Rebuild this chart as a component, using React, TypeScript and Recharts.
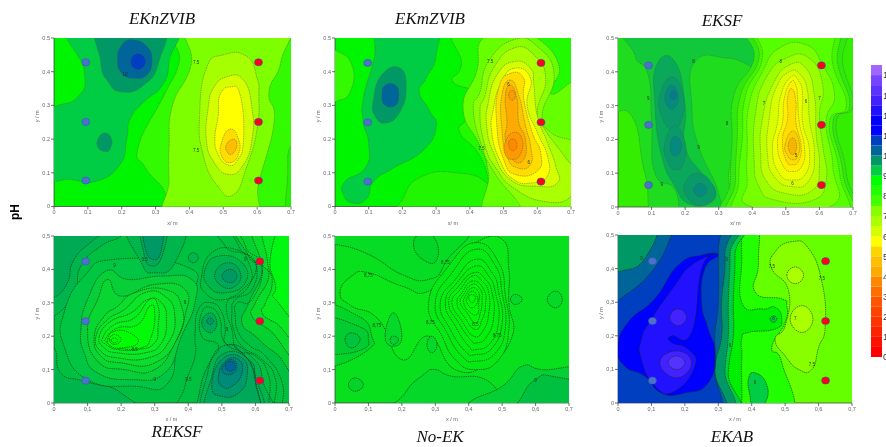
import React from "react";
import { Bar, BarChart, ReferenceArea, Scatter, ScatterChart, XAxis, YAxis } from "recharts";

type Pt = number[];

const xTicks = [0, 0.1, 0.2, 0.3, 0.4, 0.5, 0.6, 0.7];
const yTicks = [0, 0.1, 0.2, 0.3, 0.4, 0.5];
const scaleTicks = [0, 1, 2, 3, 4, 5, 6, 7, 8, 9, 10, 11, 12, 13, 14];
const bandColors = ["#ff0000", "#ff1100", "#ff2200", "#ff3300", "#ff4400", "#ff5500", "#ff6f00", "#ff8800", "#ffaa00", "#ffbf00", "#ffd500", "#ffff00", "#d4ff00", "#aaff00", "#88ff00", "#44ff00", "#22ff00", "#00ff00", "#00cc44", "#009966", "#006699", "#0040c0", "#0000ff", "#0000ff", "#2211ff", "#4422ff", "#5a33ff", "#7744ff", "#a066ff"];

// EKnZVIB
const c1Mid: Pt[] = [[0.38, 0.55], [0.37, 0.43], [0.325, 0.33], [0.25, 0.18], [0.27, 0.115], [0.33, 0.035], [0.33, -0.05], [0.75, -0.05], [0.75, 0.55]];
const c1Edge: Pt[] = [[0.69, -0.05], [0.69, 0.09], [0.7, 0.18], [0.75, 0.2], [0.75, -0.05]];
const c1Lime: Pt[] = [[0.41, 0.55], [0.405, 0.42], [0.35, 0.3], [0.34, 0.18], [0.34, 0.08], [0.345, -0.05], [0.58, -0.05], [0.605, 0.07], [0.65, 0.25], [0.635, 0.34], [0.67, 0.43], [0.67, 0.55]];
const c1L3: Pt[] = [[0.45, 0.41], [0.5, 0.45], [0.57, 0.445], [0.6, 0.38], [0.605, 0.33], [0.6, 0.23], [0.57, 0.12], [0.53, 0.035], [0.48, 0.065], [0.44, 0.155], [0.43, 0.27]];
const c1L4: Pt[] = [[0.47, 0.35], [0.51, 0.385], [0.56, 0.375], [0.585, 0.29], [0.585, 0.2], [0.56, 0.125], [0.515, 0.095], [0.47, 0.135], [0.45, 0.2], [0.455, 0.29]];
const c1L5: Pt[] = [[0.49, 0.33], [0.52, 0.355], [0.55, 0.33], [0.56, 0.2], [0.54, 0.135], [0.51, 0.125], [0.485, 0.155], [0.475, 0.2], [0.485, 0.27]];
const c1L6: Pt[] = [[0.495, 0.19], [0.52, 0.23], [0.545, 0.2], [0.545, 0.155], [0.52, 0.13], [0.495, 0.15]];
const c1L7: Pt[] = [[0.51, 0.185], [0.53, 0.2], [0.54, 0.18], [0.525, 0.155], [0.51, 0.165]];
const c1Dark: Pt[] = [[-0.05, 0.26], [0, 0.295], [0.07, 0.325], [0.09, 0.4], [0.055, 0.55], [0.34, 0.55], [0.34, 0.43], [0.32, 0.36], [0.265, 0.31], [0.225, 0.26], [0.215, 0.2], [0.195, 0.125], [0.125, 0.075], [0.047, 0.08], [-0.05, 0.09]];
const c1Deep: Pt[] = [[0.14, 0.55], [0.138, 0.43], [0.16, 0.37], [0.2, 0.34], [0.265, 0.36], [0.31, 0.43], [0.315, 0.55]];
const c1Blob: Pt[] = [[0.13, 0.2], [0.15, 0.218], [0.17, 0.2], [0.165, 0.17], [0.15, 0.163], [0.13, 0.175]];
const c1Navy: Pt[] = [[0.187, 0.435], [0.2, 0.48], [0.235, 0.495], [0.275, 0.475], [0.29, 0.435], [0.275, 0.39], [0.235, 0.38], [0.2, 0.395]];
const c1Core: Pt[] = [[0.225, 0.43], [0.248, 0.455], [0.272, 0.43], [0.248, 0.405]];

// EKmZVIB
const c2Patch: Pt[] = [[-0.05, 0.48], [0, 0.465], [0.05, 0.42], [0.045, 0.34], [0, 0.31], [-0.05, 0.29]];
const c2H0: Pt[] = [[0.385, 0.55], [0.375, 0.42], [0.35, 0.37], [0.43, 0.33], [0.39, 0.26], [0.37, 0.22], [0.43, 0.15], [0.46, 0.05], [0.47, -0.05], [0.75, -0.05], [0.75, 0.55]];
const c2Low: Pt[] = [[0.2, -0.05], [0.205, 0.03], [0.26, 0.09], [0.36, 0.1], [0.45, 0.07], [0.475, 0], [0.48, -0.05]];
const c2H1: Pt[] = [[0.44, 0.5], [0.42, 0.4], [0.38, 0.29], [0.43, 0.18], [0.455, 0.1], [0.47, -0.05], [0.75, -0.05], [0.75, 0.335], [0.64, 0.335], [0.665, 0.415], [0.6, 0.5], [0.54, 0.51]];
const c2H2: Pt[] = [[0.53, 0.495], [0.455, 0.43], [0.43, 0.34], [0.41, 0.29], [0.435, 0.18], [0.47, 0.105], [0.525, 0.035], [0.61, -0.05], [0.75, -0.05], [0.75, 0.15], [0.64, 0.22], [0.615, 0.275], [0.65, 0.39], [0.6, 0.475]];
const c2H3: Pt[] = [[0.53, 0.47], [0.47, 0.41], [0.445, 0.33], [0.43, 0.28], [0.445, 0.18], [0.48, 0.11], [0.53, 0.055], [0.62, 0.015], [0.7, 0.03], [0.71, 0.1], [0.68, 0.15], [0.625, 0.225], [0.6, 0.28], [0.625, 0.38], [0.59, 0.45]];
const c2H4: Pt[] = [[0.53, 0.43], [0.48, 0.39], [0.455, 0.31], [0.45, 0.24], [0.47, 0.16], [0.52, 0.08], [0.6, 0.06], [0.66, 0.07], [0.655, 0.12], [0.63, 0.19], [0.6, 0.27], [0.59, 0.36], [0.58, 0.41]];
const c2H5: Pt[] = [[0.53, 0.41], [0.49, 0.36], [0.47, 0.29], [0.465, 0.22], [0.49, 0.135], [0.53, 0.08], [0.585, 0.07], [0.63, 0.09], [0.63, 0.15], [0.6, 0.22], [0.57, 0.3], [0.58, 0.38]];
const c2H6: Pt[] = [[0.52, 0.395], [0.485, 0.35], [0.48, 0.24], [0.5, 0.14], [0.535, 0.095], [0.6, 0.105], [0.61, 0.16], [0.585, 0.22], [0.56, 0.32], [0.56, 0.38]];
const c2H7: Pt[] = [[0.52, 0.375], [0.495, 0.33], [0.495, 0.23], [0.51, 0.15], [0.54, 0.115], [0.58, 0.125], [0.58, 0.18], [0.565, 0.24], [0.545, 0.33]];
const c2H8: Pt[] = [[0.52, 0.36], [0.505, 0.325], [0.51, 0.25], [0.505, 0.2], [0.525, 0.14], [0.56, 0.14], [0.565, 0.2], [0.545, 0.25], [0.54, 0.32]];
const c2H9: Pt[] = [[0.505, 0.19], [0.53, 0.22], [0.555, 0.2], [0.55, 0.155], [0.525, 0.14], [0.505, 0.155]];
const c2H10: Pt[] = [[0.515, 0.19], [0.53, 0.2], [0.54, 0.18], [0.525, 0.165]];
const c2Top: Pt[] = [[0.515, 0.33], [0.525, 0.345], [0.535, 0.33], [0.525, 0.315]];
const c2Dark: Pt[] = [[0.29, 0.55], [0.3, 0.45], [0.27, 0.38], [0.25, 0.34], [0.28, 0.285], [0.3, 0.235], [0.26, 0.165], [0.175, 0.115], [0.115, 0.075], [0.095, 0.025], [0.055, 0.01], [0.025, 0.035], [0.03, 0.075], [0.09, 0.115], [0.1, 0.185], [0.083, 0.255], [0.085, 0.325], [0.115, 0.435], [0.14, 0.55]];
const c2Deep: Pt[] = [[0.114, 0.317], [0.139, 0.391], [0.193, 0.411], [0.211, 0.351], [0.193, 0.282], [0.153, 0.248], [0.119, 0.268]];
const c2Navy: Pt[] = [[0.139, 0.33], [0.148, 0.36], [0.18, 0.36], [0.19, 0.33], [0.18, 0.3], [0.148, 0.3]];

// EKSF
const c3D1: Pt[] = [[-0.05, 0.55], [-0.05, 0.3], [0.04, 0.27], [0.08, 0.1], [0.13, -0.05], [0.33, -0.05], [0.33, 0.1], [0.36, 0.2], [0.37, 0.32], [0.42, 0.42], [0.47, 0.55]];
const c3D2: Pt[] = [[0.05, 0.55], [0.05, 0.45], [0.09, 0.39], [0.1, 0.25], [0.11, 0.1], [0.17, 0.05], [0.2, -0.05], [0.3, -0.05], [0.3, 0.04], [0.24, 0.18], [0.22, 0.3], [0.23, 0.43], [0.33, 0.44], [0.43, 0.42], [0.43, 0.55]];
const c3D3: Pt[] = [[0.115, 0.42], [0.17, 0.43], [0.2, 0.3], [0.2, 0.18], [0.25, 0.1], [0.29, 0.05], [0.27, 0.01], [0.21, 0.01], [0.17, 0.06], [0.13, 0.15], [0.11, 0.3]];
const c3A1: Pt[] = [[0.125, 0.33], [0.16, 0.385], [0.195, 0.33], [0.19, 0.26], [0.16, 0.23], [0.13, 0.27]];
const c3A2: Pt[] = [[0.14, 0.19], [0.17, 0.24], [0.2, 0.19], [0.195, 0.13], [0.17, 0.11], [0.145, 0.14]];
const c3A3: Pt[] = [[0.2, 0.07], [0.24, 0.1], [0.285, 0.06], [0.28, 0.02], [0.24, 0.005], [0.205, 0.03]];
const c3B1: Pt[] = [[0.14, 0.33], [0.16, 0.36], [0.18, 0.33], [0.17, 0.295], [0.15, 0.295]];
const c3B2: Pt[] = [[0.155, 0.18], [0.17, 0.21], [0.19, 0.18], [0.17, 0.15]];
const c3B3: Pt[] = [[0.225, 0.05], [0.245, 0.07], [0.265, 0.05], [0.245, 0.03]];
const c3C1: Pt[] = [[0.155, 0.33], [0.165, 0.345], [0.175, 0.33], [0.165, 0.318]];
const c3R0a: Pt[] = [[0.39, 0.55], [0.405, 0.44], [0.345, 0.33], [0.34, 0.2], [0.335, 0.08], [0.34, -0.05], [0.68, -0.05], [0.68, 0.1], [0.65, 0.25], [0.7, 0.3], [0.67, 0.42], [0.65, 0.55]];
const c3R0b: Pt[] = [[0.41, 0.55], [0.42, 0.44], [0.365, 0.33], [0.355, 0.2], [0.35, 0.08], [0.355, -0.05], [0.67, -0.05], [0.67, 0.1], [0.64, 0.25], [0.69, 0.3], [0.655, 0.42], [0.635, 0.55]];
const c3R1: Pt[] = [[0.42, 0.55], [0.43, 0.44], [0.38, 0.33], [0.37, 0.2], [0.36, 0.08], [0.37, -0.05], [0.66, -0.05], [0.66, 0.1], [0.63, 0.25], [0.68, 0.3], [0.64, 0.42], [0.62, 0.55]];
const c3R2: Pt[] = [[0.48, 0.47], [0.43, 0.4], [0.39, 0.3], [0.385, 0.18], [0.385, 0.08], [0.4, 0], [0.63, 0], [0.64, 0.12], [0.62, 0.25], [0.645, 0.33], [0.61, 0.42], [0.56, 0.48]];
const c3R3: Pt[] = [[0.5, 0.44], [0.44, 0.38], [0.41, 0.28], [0.405, 0.15], [0.42, 0.06], [0.47, 0.02], [0.58, 0.02], [0.62, 0.08], [0.61, 0.18], [0.6, 0.27], [0.61, 0.36], [0.57, 0.44]];
const c3R4: Pt[] = [[0.51, 0.42], [0.46, 0.36], [0.43, 0.26], [0.425, 0.16], [0.44, 0.08], [0.5, 0.04], [0.58, 0.05], [0.6, 0.12], [0.59, 0.22], [0.585, 0.33], [0.56, 0.41]];
const c3R5: Pt[] = [[0.51, 0.4], [0.47, 0.35], [0.45, 0.26], [0.445, 0.16], [0.465, 0.09], [0.52, 0.06], [0.57, 0.08], [0.585, 0.16], [0.57, 0.26], [0.565, 0.34], [0.545, 0.39]];
const c3R6: Pt[] = [[0.515, 0.385], [0.485, 0.33], [0.475, 0.25], [0.46, 0.17], [0.48, 0.1], [0.52, 0.08], [0.56, 0.1], [0.57, 0.17], [0.55, 0.25], [0.55, 0.33], [0.54, 0.37]];
const c3R7: Pt[] = [[0.515, 0.37], [0.495, 0.32], [0.49, 0.25], [0.475, 0.19], [0.49, 0.125], [0.52, 0.105], [0.55, 0.125], [0.555, 0.18], [0.54, 0.25], [0.535, 0.32], [0.53, 0.36]];
const c3R8: Pt[] = [[0.518, 0.35], [0.505, 0.32], [0.505, 0.26], [0.49, 0.2], [0.5, 0.14], [0.52, 0.125], [0.54, 0.14], [0.545, 0.185], [0.53, 0.25], [0.53, 0.31]];
const c3R9: Pt[] = [[0.498, 0.185], [0.52, 0.225], [0.54, 0.19], [0.535, 0.15], [0.52, 0.14], [0.503, 0.155]];
const c3R10: Pt[] = [[0.507, 0.18], [0.52, 0.205], [0.532, 0.18], [0.52, 0.155]];

// REKSF
const c4Band: Pt[] = [[-0.05, 0.55], [-0.05, 0.26], [0, 0.26], [0.06, 0.33], [0.08, 0.41], [0.14, 0.47], [0.2, 0.5], [0.25, 0.55]];
const c4Foot: Pt[] = [[-0.05, 0.165], [0, 0.165], [0.02, 0.09], [0.09, 0.065], [0.2, 0.03], [0.24, -0.05], [-0.05, -0.05]];
const c4Corner: Pt[] = [[-0.05, 0.55], [-0.05, 0.3], [0, 0.315], [0.04, 0.36], [0.06, 0.43], [0.12, 0.49], [0.2, 0.55]];
const c4Wide: Pt[] = [[0.03, 0.17], [0.03, 0.27], [0.09, 0.38], [0.18, 0.43], [0.39, 0.41], [0.42, 0.33], [0.37, 0.2], [0.34, 0.06], [0.24, 0.05], [0.1, 0.07]];
const c4P1: Pt[] = [[0.08, 0.22], [0.1, 0.31], [0.155, 0.395], [0.22, 0.37], [0.32, 0.38], [0.41, 0.37], [0.42, 0.3], [0.38, 0.2], [0.33, 0.09], [0.23, 0.07], [0.13, 0.09], [0.09, 0.15]];
const c4P2: Pt[] = [[0.1, 0.22], [0.13, 0.31], [0.16, 0.37], [0.2, 0.32], [0.3, 0.355], [0.39, 0.34], [0.39, 0.26], [0.36, 0.18], [0.3, 0.1], [0.21, 0.1], [0.13, 0.125]];
const c4P3: Pt[] = [[0.12, 0.2], [0.15, 0.26], [0.19, 0.29], [0.24, 0.33], [0.33, 0.34], [0.38, 0.29], [0.37, 0.2], [0.3, 0.12], [0.2, 0.12], [0.14, 0.14]];
const c4P4: Pt[] = [[0.125, 0.2], [0.16, 0.25], [0.21, 0.28], [0.27, 0.33], [0.33, 0.32], [0.36, 0.26], [0.34, 0.18], [0.28, 0.135], [0.19, 0.135], [0.14, 0.155]];
const c4P5: Pt[] = [[0.135, 0.2], [0.17, 0.245], [0.23, 0.27], [0.28, 0.31], [0.32, 0.3], [0.335, 0.25], [0.32, 0.18], [0.27, 0.15], [0.19, 0.15], [0.15, 0.165]];
const c4P6: Pt[] = [[0.145, 0.195], [0.18, 0.235], [0.24, 0.255], [0.285, 0.31], [0.31, 0.29], [0.31, 0.23], [0.3, 0.18], [0.25, 0.16], [0.19, 0.16], [0.155, 0.175]];
const c4P7: Pt[] = [[0.155, 0.195], [0.19, 0.225], [0.25, 0.235], [0.285, 0.29], [0.3, 0.27], [0.29, 0.2], [0.26, 0.165], [0.19, 0.165], [0.16, 0.18]];
const c4P8: Pt[] = [[0.16, 0.19], [0.18, 0.215], [0.225, 0.21], [0.25, 0.18], [0.2, 0.165], [0.17, 0.17]];
const c4P9: Pt[] = [[0.165, 0.19], [0.18, 0.205], [0.2, 0.19], [0.18, 0.175]];
const c4P10: Pt[] = [[0.17, 0.188], [0.18, 0.195], [0.19, 0.188], [0.18, 0.18]];
const c4W1: Pt[] = [[0.4, -0.05], [0.425, 0], [0.455, 0.104], [0.514, 0.174], [0.593, 0.134], [0.623, 0.064], [0.633, -0.05]];
const c4W2: Pt[] = [[0.46, -0.05], [0.47, 0.08], [0.51, 0.15], [0.58, 0.13], [0.6, 0.07], [0.6, -0.05]];
const c4W3: Pt[] = [[0.47, 0.05], [0.5, 0.13], [0.56, 0.135], [0.575, 0.08], [0.55, 0.03], [0.5, 0.02]];
const c4W4: Pt[] = [[0.49, 0.08], [0.51, 0.125], [0.55, 0.13], [0.56, 0.09], [0.53, 0.05], [0.5, 0.05]];
const c4W5: Pt[] = [[0.5, 0.1], [0.525, 0.13], [0.545, 0.11], [0.525, 0.085]];
const c4W6: Pt[] = [[0.51, 0.11], [0.525, 0.125], [0.54, 0.11], [0.525, 0.095]];
const c4M1: Pt[] = [[0.44, 0.24], [0.465, 0.27], [0.485, 0.24], [0.465, 0.21]];
const c4M2: Pt[] = [[0.455, 0.245], [0.465, 0.255], [0.475, 0.245], [0.465, 0.235]];
const c4T1: Pt[] = [[0.45, 0.4], [0.49, 0.44], [0.56, 0.42], [0.57, 0.36], [0.51, 0.33], [0.46, 0.35]];
const c4T2: Pt[] = [[0.48, 0.39], [0.52, 0.42], [0.555, 0.39], [0.54, 0.35], [0.5, 0.35]];
const c4T3: Pt[] = [[0.5, 0.38], [0.525, 0.4], [0.545, 0.38], [0.525, 0.36]];
const c4U0: Pt[] = [[0.22, 0.55], [0.26, 0.42], [0.3, 0.39], [0.36, 0.42], [0.38, 0.55]];
const c4U1: Pt[] = [[0.26, 0.55], [0.265, 0.46], [0.29, 0.41], [0.325, 0.45], [0.33, 0.55]];
const c4U2: Pt[] = [[0.27, 0.55], [0.27, 0.47], [0.295, 0.43], [0.32, 0.46], [0.32, 0.55]];
const c4Ring: Pt[] = [[0.4, 0.435], [0.415, 0.45], [0.43, 0.435], [0.415, 0.42]];
const c4E1: Pt[] = [[0.55, 0.55], [0.58, 0.44], [0.62, 0.4], [0.58, 0.3], [0.56, 0.24], [0.6, 0.2], [0.66, 0.15], [0.75, 0.1], [0.75, 0.55]];
const c4E2: Pt[] = [[0.6, 0.55], [0.615, 0.43], [0.64, 0.38], [0.6, 0.3], [0.59, 0.26], [0.64, 0.22], [0.75, 0.15], [0.75, 0.55]];
const c4E3: Pt[] = [[0.63, 0.55], [0.635, 0.43], [0.65, 0.36], [0.63, 0.3], [0.62, 0.27], [0.66, 0.24], [0.75, 0.2], [0.75, 0.55]];
const c4E4: Pt[] = [[0.69, 0.55], [0.645, 0.44], [0.66, 0.35], [0.66, 0.31], [0.75, 0.26], [0.75, 0.55]];
const c4N1: Pt[] = [[0.52, 0.55], [0.51, 0.47], [0.58, 0.44], [0.6, 0.39], [0.55, 0.33], [0.52, 0.31], [0.515, 0.27], [0.53, 0.22], [0.545, 0.16], [0.6, 0.14], [0.64, 0.08], [0.66, -0.05], [0.8, -0.05], [0.8, 0.6]];
const c4N2: Pt[] = [[0.56, 0.55], [0.55, 0.47], [0.6, 0.42], [0.59, 0.34], [0.54, 0.31], [0.53, 0.27], [0.535, 0.22], [0.56, 0.17], [0.62, 0.13], [0.66, 0.07], [0.67, -0.05], [0.8, -0.05], [0.8, 0.6]];
const c4N3: Pt[] = [[0.58, 0.55], [0.57, 0.47], [0.62, 0.41], [0.59, 0.31], [0.545, 0.3], [0.54, 0.26], [0.55, 0.21], [0.585, 0.17], [0.63, 0.14], [0.68, 0.06], [0.69, -0.05], [0.8, -0.05], [0.8, 0.6]];
const c4N4: Pt[] = [[0.38, -0.05], [0.39, 0.05], [0.42, 0.14], [0.42, 0.2], [0.43, 0.28], [0.47, 0.3], [0.5, 0.27], [0.51, 0.22], [0.51, 0.18], [0.55, 0.16], [0.6, 0.08], [0.6, -0.05]];
const c4N5: Pt[] = [[0.45, -0.05], [0.46, 0.1], [0.49, 0.17], [0.44, 0.2], [0.44, 0.27], [0.47, 0.285], [0.495, 0.25], [0.5, 0.2], [0.52, 0.17], [0.57, 0.14], [0.6, 0.06], [0.6, -0.05]];
const c4N6: Pt[] = [[0.44, 0.38], [0.47, 0.45], [0.54, 0.46], [0.58, 0.42], [0.58, 0.35], [0.51, 0.31], [0.45, 0.33]];

// No-EK
const c5Low1: Pt[] = [[0.18, -0.05], [0.21, 0.03], [0.265, 0.085], [0.3, 0.1], [0.35, 0.08], [0.45, 0.07], [0.5, 0], [0.5, -0.05]];
const c5Low2: Pt[] = [[0.39, -0.05], [0.4, 0], [0.5, 0.05], [0.56, 0.11], [0.62, 0.1], [0.75, 0.09], [0.75, -0.05]];
const c5Low3: Pt[] = [[0.54, -0.05], [0.56, 0.02], [0.6, 0.07], [0.65, 0.08], [0.75, 0.04], [0.75, -0.05]];
const c5Left1: Pt[] = [[-0.05, 0.11], [0, 0.11], [0.1, 0.16], [0.11, 0.2], [0.07, 0.26], [-0.05, 0.28]];
const c5Left2: Pt[] = [[-0.05, 0.15], [0, 0.145], [0.08, 0.16], [0.1, 0.19], [0.07, 0.23], [-0.05, 0.25]];
const c5Left3: Pt[] = [[0.03, 0.19], [0.05, 0.21], [0.075, 0.19], [0.05, 0.165]];
const c5TopBand: Pt[] = [[-0.05, 0.55], [-0.05, 0.47], [0, 0.475], [0.1, 0.445], [0.2, 0.385], [0.28, 0.37], [0.33, 0.42], [0.37, 0.55]];
const c5TopBlob: Pt[] = [[0.235, 0.47], [0.26, 0.51], [0.3, 0.49], [0.305, 0.43], [0.27, 0.425]];
const c5Tear: Pt[] = [[0.15, 0.2], [0.175, 0.27], [0.2, 0.2], [0.175, 0.17]];
const c5TearIn: Pt[] = [[0.165, 0.19], [0.175, 0.2], [0.19, 0.19], [0.175, 0.175]];
const c5Oval: Pt[] = [[0.275, 0.175], [0.29, 0.2], [0.305, 0.175], [0.29, 0.15]];
const c5Dot1: Pt[] = [[0.04, 0.055], [0.06, 0.075], [0.085, 0.055], [0.06, 0.035]];
const c5Dot2: Pt[] = [[0.525, 0.31], [0.54, 0.325], [0.56, 0.31], [0.54, 0.295]];
const c5Dot3: Pt[] = [[0.635, 0.31], [0.66, 0.335], [0.68, 0.31], [0.66, 0.285]];
const c5Ring0: Pt[] = [[0.015, 0.33], [0.05, 0.38], [0.1, 0.39], [0.2, 0.35], [0.28, 0.335], [0.36, 0.42], [0.42, 0.48], [0.5, 0.49], [0.52, 0.4], [0.52, 0.3], [0.53, 0.2], [0.46, 0.12], [0.36, 0.1], [0.28, 0.2], [0.2, 0.13], [0.13, 0.25], [0.05, 0.29]];
const c5R1: Pt[] = [[0.42, 0.48], [0.34, 0.41], [0.28, 0.3], [0.32, 0.2], [0.36, 0.13], [0.42, 0.1], [0.49, 0.13], [0.52, 0.22], [0.51, 0.32], [0.49, 0.42]];
const c5R2: Pt[] = [[0.42, 0.46], [0.35, 0.39], [0.3, 0.3], [0.335, 0.21], [0.38, 0.14], [0.42, 0.125], [0.48, 0.15], [0.51, 0.23], [0.5, 0.33], [0.48, 0.41]];
const c5R3: Pt[] = [[0.42, 0.43], [0.36, 0.37], [0.315, 0.3], [0.345, 0.22], [0.39, 0.155], [0.42, 0.145], [0.47, 0.165], [0.5, 0.24], [0.49, 0.33], [0.47, 0.39]];
const c5R4: Pt[] = [[0.42, 0.41], [0.365, 0.36], [0.33, 0.3], [0.36, 0.23], [0.4, 0.17], [0.42, 0.16], [0.465, 0.18], [0.49, 0.25], [0.48, 0.33], [0.46, 0.38]];
const c5R5: Pt[] = [[0.415, 0.39], [0.37, 0.35], [0.34, 0.3], [0.37, 0.24], [0.405, 0.19], [0.425, 0.18], [0.455, 0.2], [0.475, 0.26], [0.47, 0.33], [0.45, 0.37]];
const c5R6: Pt[] = [[0.41, 0.38], [0.375, 0.34], [0.35, 0.3], [0.38, 0.245], [0.415, 0.2], [0.445, 0.22], [0.46, 0.27], [0.46, 0.33], [0.44, 0.365]];
const c5R7: Pt[] = [[0.41, 0.365], [0.38, 0.33], [0.365, 0.3], [0.385, 0.26], [0.42, 0.22], [0.44, 0.25], [0.45, 0.29], [0.445, 0.34]];
const c5R8: Pt[] = [[0.41, 0.355], [0.385, 0.325], [0.375, 0.3], [0.395, 0.27], [0.42, 0.24], [0.435, 0.27], [0.44, 0.31], [0.435, 0.34]];
const c5R9: Pt[] = [[0.41, 0.345], [0.39, 0.32], [0.385, 0.3], [0.4, 0.275], [0.425, 0.265], [0.43, 0.3], [0.43, 0.33]];
const c5R10: Pt[] = [[0.41, 0.335], [0.395, 0.315], [0.395, 0.3], [0.41, 0.285], [0.425, 0.3], [0.425, 0.32]];
const c5R11: Pt[] = [[0.41, 0.325], [0.4, 0.315], [0.41, 0.3], [0.42, 0.315]];

// EKAB
const c6G1: Pt[] = [[0.3, 0.55], [0.405, 0.55], [0.42, 0.42], [0.41, 0.33], [0.49, 0.31], [0.505, 0.29], [0.5, 0.24], [0.46, 0.165], [0.49, 0.12], [0.51, -0.05], [0.3, -0.05]];
const c6G0: Pt[] = [[0.3, 0.55], [0.36, 0.55], [0.37, 0.44], [0.37, 0.3], [0.43, 0.28], [0.47, 0.285], [0.49, 0.25], [0.47, 0.22], [0.39, 0.21], [0.37, 0.19], [0.37, 0.12], [0.36, -0.05], [0.3, -0.05]];
const c6Spot: Pt[] = [[0.39, 0.07], [0.41, 0.09], [0.445, 0.055], [0.44, 0], [0.405, -0.02], [0.395, 0.02]];
const c6Ring: Pt[] = [[0.455, 0.25], [0.465, 0.26], [0.475, 0.25], [0.465, 0.24]];
const c6Band1: Pt[] = [[-0.05, 0.55], [0.345, 0.55], [0.35, 0.44], [0.345, 0.3], [0.345, 0.2], [0.33, 0.09], [0.33, -0.05], [-0.05, -0.05]];
const c6Band2: Pt[] = [[-0.05, 0.55], [0.33, 0.55], [0.335, 0.44], [0.33, 0.3], [0.33, 0.2], [0.32, 0.1], [0.31, -0.05], [-0.05, -0.05]];
const c6Band3: Pt[] = [[-0.05, 0.55], [0.3, 0.55], [0.32, 0.44], [0.31, 0.3], [0.31, 0.2], [0.29, 0.1], [0.29, -0.05], [-0.05, -0.05]];
const c6Band4: Pt[] = [[-0.05, 0.27], [0, 0.305], [0.1, 0.39], [0.16, 0.5], [0.17, 0.55], [0.3, 0.55], [0.3, 0.45], [0.3, 0.3], [0.29, 0.2], [0.29, 0.1], [0.27, -0.05], [-0.05, -0.05]];
const c6Corner: Pt[] = [[-0.05, 0.55], [0.105, 0.55], [0.08, 0.43], [0, 0.39], [-0.05, 0.38]];
const c6B5: Pt[] = [[0, 0.165], [0.03, 0.24], [0.11, 0.31], [0.18, 0.41], [0.25, 0.44], [0.3, 0.44], [0.26, 0.4], [0.25, 0.3], [0.27, 0.22], [0.29, 0.15], [0.27, 0.06], [0.2, 0.03], [0.13, 0.03], [0.08, 0.08], [0.02, 0.11]];
const c6B6: Pt[] = [[0.07, 0.19], [0.1, 0.25], [0.17, 0.35], [0.22, 0.41], [0.29, 0.44], [0.25, 0.4], [0.22, 0.21], [0.16, 0.2], [0.16, 0.18], [0.21, 0.16], [0.23, 0.11], [0.17, 0.035], [0.11, 0.05], [0.07, 0.13]];
const c6B7: Pt[] = [[0.155, 0.255], [0.18, 0.28], [0.205, 0.255], [0.18, 0.23]];
const c6B8: Pt[] = [[0.125, 0.12], [0.175, 0.155], [0.22, 0.12], [0.175, 0.075]];
const c6B9: Pt[] = [[0.15, 0.12], [0.175, 0.14], [0.2, 0.12], [0.175, 0.1]];
const c6L1: Pt[] = [[0.46, 0.4], [0.51, 0.335], [0.5, 0.23], [0.47, 0.19], [0.5, 0.14], [0.54, 0.1], [0.58, 0.1], [0.6, 0.165], [0.62, 0.23], [0.61, 0.36], [0.57, 0.46], [0.52, 0.48], [0.47, 0.45]];
const c6L2: Pt[] = [[0.505, 0.38], [0.53, 0.405], [0.555, 0.38], [0.53, 0.355]];
const c6L3: Pt[] = [[0.515, 0.25], [0.55, 0.29], [0.583, 0.25], [0.55, 0.21]];

// electrode positions
const rows1 = [0.428, 0.251, 0.077];
const rows2 = [0.426, 0.25, 0.074];
const rows3 = [0.419, 0.243, 0.065];
const rows4 = [0.424, 0.245, 0.067];
const rows6 = [0.422, 0.244, 0.067];

const labels1 = [{ x: 0.42, y: 0.425, t: "7.5" }, { x: 0.42, y: 0.165, t: "7.5" }, { x: 0.21, y: 0.39, t: "10" }];
const labels2 = [{ x: 0.46, y: 0.43, t: "7.5" }, { x: 0.435, y: 0.17, t: "7.5" }, { x: 0.515, y: 0.36, t: "6" }, { x: 0.575, y: 0.13, t: "6" }];
const labels3 = [{ x: 0.09, y: 0.32, t: "9" }, { x: 0.225, y: 0.43, t: "8" }, { x: 0.24, y: 0.175, t: "9" }, { x: 0.13, y: 0.065, t: "9" }, { x: 0.325, y: 0.245, t: "8" }, { x: 0.485, y: 0.43, t: "8" }, { x: 0.435, y: 0.305, t: "7" }, { x: 0.6, y: 0.32, t: "7" }, { x: 0.56, y: 0.31, t: "6" }, { x: 0.53, y: 0.15, t: "5" }, { x: 0.52, y: 0.07, t: "6" }];
const labels4 = [{ x: 0.18, y: 0.41, t: "9" }, { x: 0.24, y: 0.16, t: "8.5" }, { x: 0.3, y: 0.07, t: "9" }, { x: 0.39, y: 0.3, t: "9" }, { x: 0.4, y: 0.07, t: "9.5" }, { x: 0.27, y: 0.43, t: "9.5" }, { x: 0.57, y: 0.43, t: "9" }, { x: 0.515, y: 0.22, t: "9" }];
const labels5 = [{ x: 0.1, y: 0.38, t: "8,75" }, { x: 0.125, y: 0.23, t: "8,75" }, { x: 0.285, y: 0.24, t: "8,75" }, { x: 0.33, y: 0.42, t: "8,75" }, { x: 0.485, y: 0.2, t: "8,75" }, { x: 0.6, y: 0.065, t: "9" }, { x: 0.42, y: 0.235, t: "8,5" }];
const labels6 = [{ x: 0.07, y: 0.43, t: "9" }, { x: 0.325, y: 0.425, t: "9" }, { x: 0.335, y: 0.17, t: "9" }, { x: 0.46, y: 0.405, t: "7,5" }, { x: 0.61, y: 0.37, t: "7,5" }, { x: 0.58, y: 0.115, t: "7,5" }, { x: 0.465, y: 0.25, t: "8" }, { x: 0.53, y: 0.25, t: "7" }, { x: 0.41, y: 0.06, t: "9" }];

const fine = "#4f6b3a";
const ink = "#0d2a12";

const panels = [
  {
    left: 54, top: 38, w: 237, h: 168.5, base: "#00f500", comma: false, stroke: fine, sw: 0.5, xAnode: 0.094, xCathode: 0.604, rows: rows1, bar: [0.529, 0.546, 0.035, 0.45], labels: labels1,
    layers: [[c1Mid, "#33fa00"], [c1Edge, "#22f000"], [c1Lime, "#7dff00"], [c1L3, "#a6ff00"], [c1L4, "#d4ff00"], [c1L5, "#ffff00"], [c1L6, "#ffdd00"], [c1L7, "#ffbf00"], [c1Dark, "#00cc44"], [c1Deep, "#009966"], [c1Blob, "#009966"], [c1Navy, "#006699"], [c1Core, "#0040c0"]],
  },
  {
    left: 335, top: 38, w: 236, h: 168.5, base: "#00f500", comma: false, stroke: fine, sw: 0.5, xAnode: 0.097, xCathode: 0.611, rows: rows2, bar: [0.534, 0.553, 0.033, 0.448], labels: labels2,
    layers: [[c2Patch, "#33fa00"], [c2Low, "#22f500"], [c2H0, "#22fa00"], [c2H1, "#66ff00"], [c2H2, "#88ff00"], [c2H3, "#aaff00"], [c2H4, "#d4ff00"], [c2H5, "#ffff00"], [c2H6, "#ffdd00"], [c2H7, "#ffc400"], [c2H8, "#ffaa00"], [c2H9, "#ff9900"], [c2H10, "#ff8800"], [c2Top, "#ff9900"], [c2Dark, "#00cc44"], [c2Deep, "#009966"], [c2Navy, "#006699"]],
  },
  {
    left: 618, top: 38, w: 235, h: 169, base: "#33ee00", comma: false, stroke: "#3f5f30", sw: 0.4, xAnode: 0.091, xCathode: 0.606, rows: rows3, bar: null, labels: labels3,
    layers: [[c3D1, "#1fdc1f"], [c3D2, "#11c83a"], [c3D3, "#0aa85a"], [c3A1, "#0a9a6a"], [c3A2, "#0a9a6a"], [c3A3, "#0a9a6a"], [c3B1, "#068a80"], [c3B2, "#068a80"], [c3B3, "#068a80"], [c3C1, "#067a90"], [c3R0a, "#2ee810"], [c3R0b, "#44f500"], [c3R1, "#55ff00"], [c3R2, "#77ff00"], [c3R3, "#99ff00"], [c3R4, "#bbff00"], [c3R5, "#d8ff00"], [c3R6, "#eeff00"], [c3R7, "#ffee00"], [c3R8, "#ffdd00"], [c3R9, "#ffcc00"], [c3R10, "#f5b500"]],
  },
  {
    left: 54, top: 236, w: 235, h: 167, base: "#00c040", comma: true, stroke: ink, sw: 0.6, xAnode: 0.094, xCathode: 0.613, rows: rows4, bar: null, labels: labels4,
    layers: [[c4Band, "#00b54c"], [c4Foot, "#00b54c"], [c4Corner, "#00aa55"], [c4Wide, "#00c644"], [c4P1, "#08cf38"], [c4P2, "#0ad632"], [c4P3, "#0cdc2c"], [c4P4, "#0ae528"], [c4P5, "#08ec20"], [c4P6, "#06f218"], [c4P7, "#03fa08"], [c4P8, "#00ff00"], [c4P9, "#00ff00"], [c4P10, "#00ff00"], [c4E1, "#06d030"], [c4E2, "#08dc28"], [c4E3, "#08e820"], [c4E4, "#00f810"], [c4W1, "#00b54c"], [c4W2, "#00a95a"], [c4W3, "#00996a"], [c4W4, "#008a78"], [c4W5, "#007a88"], [c4W6, "#006699"], [c4M1, "#00a955"], [c4M2, "#009966"], [c4T1, "#00b54c"], [c4T2, "#00a95a"], [c4T3, "#009966"], [c4U0, "#00b54c"], [c4U1, "#00a95a"], [c4U2, "#009966"], [c4Ring, "#00b54c"], [c4N1, "none"], [c4N2, "none"], [c4N3, "none"], [c4N4, "none"], [c4N5, "none"], [c4N6, "none"]],
  },
  {
    left: 335, top: 236, w: 234, h: 167, base: "#08e01e", comma: true, stroke: ink, sw: 0.6, xAnode: 0, xCathode: 0, rows: [], bar: null, labels: labels5,
    layers: [[c5TopBand, "#06dc24"], [c5TopBlob, "#04d428"], [c5Low1, "#06d82a"], [c5Low2, "#04cf34"], [c5Low3, "#00c040"], [c5Left1, "#04d428"], [c5Left2, "#02cc30"], [c5Left3, "#00c43c"], [c5Ring0, "#0ae618"], [c5Tear, "#06d82a"], [c5TearIn, "#04d030"], [c5Oval, "#06d82a"], [c5Dot1, "#04d428"], [c5Dot2, "#06d82a"], [c5Dot3, "#06d82a"], [c5R1, "#06e814"], [c5R2, "#05ea12"], [c5R3, "#04ec10"], [c5R4, "#04ee0e"], [c5R5, "#03f00c"], [c5R6, "#03f20a"], [c5R7, "#02f408"], [c5R8, "#02f606"], [c5R9, "#01f804"], [c5R10, "#01fa02"], [c5R11, "#00fc00"]],
  },
  {
    left: 618, top: 235, w: 234, h: 168, base: "#66ff00", comma: true, stroke: ink, sw: 0.6, xAnode: 0.103, xCathode: 0.621, rows: rows6, bar: [0.347, 0.363, 0.036, 0.453], labels: labels6,
    layers: [[c6G1, "#22ff00"], [c6G0, "#00ee00"], [c6Spot, "#00cc44"], [c6Ring, "#00cc44"], [c6Band1, "#00cc44"], [c6Band2, "#009966"], [c6Band3, "#006699"], [c6Band4, "#0040c0"], [c6Corner, "#009966"], [c6B5, "#0000ff"], [c6B6, "#2211ff"], [c6B7, "#4422ff"], [c6B8, "#4422ff"], [c6B9, "#5533ff"], [c6L1, "#88ff00"], [c6L2, "#aaff00"], [c6L3, "#aaff00"]],
  },
];

const titles = [
  { text: "EKnZVIB", x: 162, y: 19 },
  { text: "EKmZVIB", x: 430, y: 19 },
  { text: "EKSF", x: 722, y: 21 },
  { text: "REKSF", x: 177, y: 432 },
  { text: "No-EK", x: 440, y: 437 },
  { text: "EKAB", x: 732, y: 437 },
];

const scaleRow = [Object.fromEntries(bandColors.map((_, i) => [`b${i}`, 0.5]))];

// closed spline through every contour point, recharts' basisClosed pulls the small rings in too far
function closedSpline(context: any) {
  let pts: number[][] = [];
  return {
    areaStart() {},
    areaEnd() {},
    lineStart() {
      pts = [];
    },
    point(x: number, y: number) {
      pts.push([+x, +y]);
    },
    lineEnd() {
      const n = pts.length;
      if (!n) return;
      const k = 1 / 4;
      context.moveTo(pts[0][0], pts[0][1]);
      for (let i = 0; i < n; i++) {
        const a = pts[(i - 1 + n) % n];
        const b = pts[i];
        const c = pts[(i + 1) % n];
        const d = pts[(i + 2) % n];
        context.bezierCurveTo(b[0] + (c[0] - a[0]) * k, b[1] + (c[1] - a[1]) * k, c[0] - (d[0] - b[0]) * k, c[1] - (d[1] - b[1]) * k, c[0], c[1]);
      }
      context.closePath();
    },
  };
}

const NoMark = () => null;
const axisFont = { fontSize: 5.5, fill: "#666", fontFamily: "Liberation Sans" };
const frameLine = { stroke: "#333", strokeWidth: 0.7 };
const toXY = (pts: Pt[]) => pts.map(([x, y]) => ({ x, y }));

function Panel({ p }: { p: (typeof panels)[number] }) {
  const fmt = (v: number) => (p.comma ? String(v).replace(".", ",") : String(v));
  const blank = () => "";
  return (
    <div style={{ position: "absolute", left: p.left - 24, top: p.top - 6 }}>
      <ScatterChart width={p.w + 30} height={p.h + 32} margin={{ top: 6, right: 6, bottom: 0, left: 0 }}>
        <ReferenceArea x1={0} x2={0.7} y1={0} y2={0.5} fill={p.base} fillOpacity={1} stroke="none" />
        {p.layers.map(([pts, fill], i) => (
          <Scatter
            key={i}
            data={toXY(pts as Pt[])}
            shape={NoMark}
            lineJointType={closedSpline as any}
            line={{ fill: fill as string, stroke: p.stroke, strokeWidth: p.sw, strokeDasharray: "1.5 0.8" }}
            isAnimationActive={false}
          />
        ))}
        {p.bar && <ReferenceArea x1={p.bar[0]} x2={p.bar[1]} y1={p.bar[2]} y2={p.bar[3]} fill="#6a2fa8" fillOpacity={1} stroke="none" />}
        <Scatter
          data={p.rows.map((y) => ({ x: p.xAnode, y }))}
          shape={(s: any) => <ellipse cx={s.cx} cy={s.cy} rx={4} ry={3.6} fill="#4a72c8" stroke="#3a55b0" strokeWidth={0.5} />}
          isAnimationActive={false}
        />
        <Scatter
          data={p.rows.map((y) => ({ x: p.xCathode, y }))}
          shape={(s: any) => <ellipse cx={s.cx} cy={s.cy} rx={4} ry={3.6} fill="#ff0018" stroke="#3a55b0" strokeWidth={0.6} />}
          isAnimationActive={false}
        />
        <Scatter
          data={p.labels}
          shape={(s: any) => (
            <text x={s.cx} y={s.cy} textAnchor="middle" dominantBaseline="middle" fontSize={4.5} fill="#1c3a1c" fontFamily="Liberation Sans">
              {s.payload.t}
            </text>
          )}
          isAnimationActive={false}
        />
        <XAxis type="number" dataKey="x" domain={[0, 0.7]} ticks={xTicks} allowDataOverflow tick={axisFont} tickSize={3} tickMargin={1} height={26} axisLine={frameLine} tickLine={frameLine} tickFormatter={fmt} label={{ value: p.comma ? "x / m" : "x/ m", position: "insideBottom", offset: 8, style: axisFont }} />
        <YAxis type="number" dataKey="y" domain={[0, 0.5]} ticks={yTicks} allowDataOverflow tick={axisFont} tickSize={3} tickMargin={1} width={24} axisLine={frameLine} tickLine={frameLine} tickFormatter={fmt} label={{ value: "y / m", angle: -90, position: "insideLeft", offset: 7, style: axisFont }} />
        <XAxis xAxisId="top" orientation="top" type="number" domain={[0, 0.7]} ticks={xTicks} height={0} tickSize={3} axisLine={frameLine} tickLine={frameLine} tickFormatter={blank} />
        <YAxis yAxisId="right" orientation="right" type="number" domain={[0, 0.5]} ticks={yTicks} width={0} tickSize={3} axisLine={frameLine} tickLine={frameLine} tickFormatter={blank} />
      </ScatterChart>
    </div>
  );
}

export default function App() {
  return (
    <div style={{ position: "fixed", left: 0, top: 0, width: 886, height: 447, overflow: "hidden", background: "#fff" }}>
      <div style={{ position: "absolute", inset: 0, filter: "blur(0.4px)" }}>
        {panels.map((p, i) => (
          <Panel key={i} p={p} />
        ))}
        <div style={{ position: "absolute", left: 871, top: 60 }}>
          <BarChart width={15} height={300} data={scaleRow} barCategoryGap={0} margin={{ top: 5, right: 0, bottom: 3, left: 0 }}>
            <XAxis hide />
            <YAxis orientation="right" type="number" domain={[0, 14.5]} ticks={scaleTicks} width={4} axisLine={false} tickLine={false} tickSize={0} tickMargin={1} interval={0} tick={{ fontSize: 9.5, fill: "#333", fontFamily: "Liberation Sans" }} />
            {bandColors.map((c, i) => (
              <Bar key={i} dataKey={`b${i}`} stackId="s" fill={c} isAnimationActive={false} />
            ))}
          </BarChart>
        </div>
        {titles.map((t) => (
          <div key={t.text} style={{ position: "absolute", left: t.x - 60, width: 120, top: t.y - 10, lineHeight: "20px", textAlign: "center", fontFamily: "Liberation Serif", fontStyle: "italic", fontSize: 17, color: "#111" }}>
            {t.text}
          </div>
        ))}
        <div style={{ position: "absolute", left: 15, top: 212, transform: "translate(-50%,-50%) rotate(-90deg)", fontFamily: "Liberation Sans", fontWeight: "bold", fontSize: 12, color: "#000" }}>pH</div>
      </div>
    </div>
  );
}
